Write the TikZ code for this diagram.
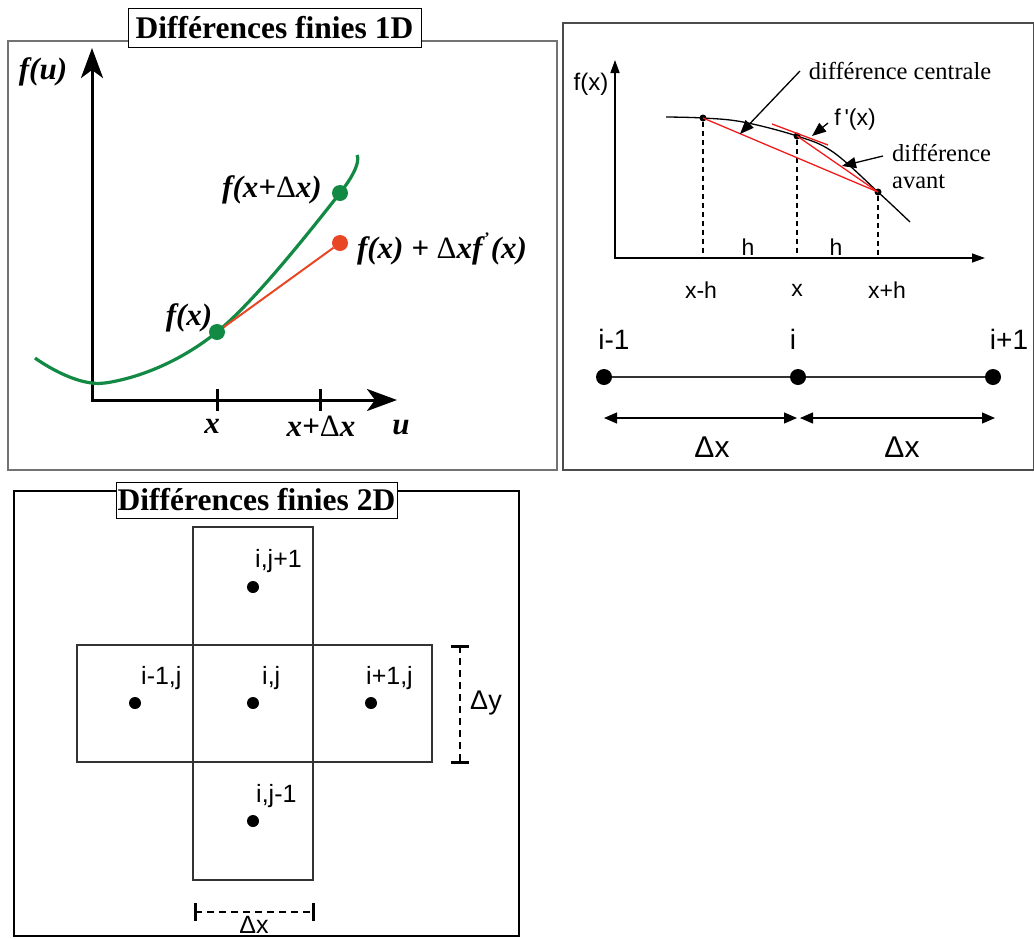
\documentclass[tikz,border=0pt]{standalone}
\usepackage{fontspec}
\setmainfont{Liberation Serif}
\newfontfamily\arialf{Liberation Sans}
\usetikzlibrary{arrows.meta}
\definecolor{cgreen}{RGB}{18,138,68}
\definecolor{corange}{RGB}{232,70,36}
\definecolor{cred}{RGB}{240,28,28}
\begin{document}
\begin{tikzpicture}[x=1pt,y=-1pt]
\tikzset{
  frameA/.style={draw=black!55, line width=1.4pt},
  frameB/.style={draw=black!70, line width=1.4pt},
  frameC/.style={draw=black, line width=1.2pt},
  titlebox/.style={draw=black, fill=white, line width=1pt, inner sep=0pt, font=\fontsize{31.5}{34}\selectfont\bfseries},
  lab1/.style={inner sep=0pt, font=\fontsize{31}{34}\selectfont\bfseries\itshape},
  gdot/.style={circle, fill=cgreen, minimum size=16pt, inner sep=0pt},
  rdot/.style={circle, fill=corange, minimum size=16pt, inner sep=0pt},
  bigaxis/.style={line width=3pt, {Stealth[length=30pt,width=22pt,inset=8pt]}-{Stealth[length=30pt,width=22pt,inset=8pt]}},
  lab2/.style={inner sep=0pt, font=\fontsize{23}{26}\selectfont\arialf},
  lab2s/.style={inner sep=0pt, font=\fontsize{24.5}{28}\selectfont},
  lab2b/.style={inner sep=0pt, font=\fontsize{28}{32}\selectfont\arialf},
  lab2d/.style={inner sep=0pt, font=\fontsize{30}{34}\selectfont\arialf},
  sdot/.style={circle, fill=black, minimum size=7pt, inner sep=0pt},
  mdot/.style={circle, fill=black, minimum size=16pt, inner sep=0pt},
  pointer/.style={line width=1.3pt, -{Triangle[length=14pt,width=11pt]}},
  dimarrow/.style={line width=1.2pt, {Triangle[length=13pt,width=11pt]}-{Triangle[length=13pt,width=11pt]}},
  guide/.style={line width=1.2pt, dash pattern=on 5pt off 4pt},
  cell/.style={draw=black!80, line width=1.6pt},
  cdot/.style={circle, fill=black, minimum size=12pt, inner sep=0pt},
  lab3/.style={inner sep=0pt, font=\fontsize{25}{28}\selectfont\arialf},
  dimdash/.style={line width=1.6pt, dash pattern=on 7pt off 5pt},
  dimbar/.style={line width=3pt}
}
\useasboundingbox (0,0) rectangle (1034,938);

% ---------------- Panel 1 ----------------
\draw[frameA] (8,41) rectangle (557,470);
\node[titlebox, minimum width=293pt, minimum height=39pt] (t1) at (274.5,27.5) {Différences finies 1D};
\coordinate (o1) at (92,400);
\coordinate (yt1) at (92,48);
\coordinate (xt1) at (397,400);
\draw[bigaxis] (yt1) -- (o1) -- (xt1);
\coordinate (tk1a) at (217,389); \coordinate (tk1b) at (217,411);
\coordinate (tk2a) at (320,389); \coordinate (tk2b) at (320,411);
\draw[line width=3pt] (tk1a) -- (tk1b);
\draw[line width=3pt] (tk2a) -- (tk2b);
\draw[cgreen, line width=3.2pt] plot[smooth, tension=0.6] coordinates {(35,358) (105,383) (217,332) (340,193) (357,155)};
\node[gdot] (p1) at (217,332) {};
\node[gdot] (p2) at (340,193) {};
\node[rdot] (p3) at (340,243) {};
\draw[corange, line width=2pt] (p1) -- (p3);
\node[lab1] (lfu) at (43,72) {f(u)};
\node[lab1] (lfxd) at (272,190) {f(x+{\upshape\mdseries Δ}x)};
\node[lab1] (lfx) at (189,318) {f(x)};
\node[lab1] (lft) at (442,249) {f(x) + {\upshape\mdseries Δ}xf\kern2pt\raisebox{1.1ex}{\fontsize{16}{16}\selectfont\upshape '}\kern1pt(x)};
\node[lab1] (lx) at (212,426) {x};
\node[lab1] (lxd) at (321,426) {x+{\upshape\mdseries Δ}x};
\node[lab1] (lu) at (401,428) {u};

% ---------------- Panel 2 ----------------
\draw[frameB] (563,23) rectangle (1033.3,470);
\coordinate (o2) at (615,258);
\coordinate (yt2) at (615,60);
\coordinate (xt2) at (985,258);
\draw[line width=1.5pt, {Triangle[length=13pt,width=9pt]}-{Triangle[length=13pt,width=9pt]}] (yt2) -- (o2) -- (xt2);
\draw[line width=1.3pt] plot[smooth, tension=0.6] coordinates {(666,117) (703,118) (743,122) (797,136) (833,152) (878,192) (910,222)};
\node[sdot] (q1) at (703,118) {};
\node[sdot] (q2) at (797,136) {};
\node[sdot] (q3) at (878,192) {};
\coordinate (b1) at (703,258);
\coordinate (b2) at (797,258);
\coordinate (b3) at (878,258);
\draw[guide] (q1) -- (b1);
\draw[guide] (q2) -- (b2);
\draw[guide] (q3) -- (b3);
\draw[cred, line width=1.3pt] (q1.center) -- (q3.center);
\draw[cred, line width=1.3pt] (q2.center) -- (q3.center);
\coordinate (tg1) at (772,124);
\coordinate (tg2) at (828,145);
\draw[cred, line width=1.3pt] (tg1) -- (tg2);
\node[lab2, font=\fontsize{24}{26}\selectfont\arialf] (lf2) at (591,84) {f(x)};
\node[lab2] (lh1) at (748,247) {h};
\node[lab2] (lh2) at (836,247) {h};
\node[lab2] (lxh) at (701,290) {x-h};
\node[lab2] (lx2) at (797,290) {x};
\node[lab2] (lxph) at (887,290) {x+h};
\node[lab2s] (ldc) at (900,71) {différence centrale};
\node[lab2] (lfp) at (855,120) {f\,'(x)};
\node[lab2s, anchor=west] (lda) at (892,153) {différence};
\node[lab2s, anchor=west] (lav) at (892,182) {avant};
\coordinate (a1s) at (800,71);
\coordinate (a1e) at (740,134);
\draw[pointer] (a1s) -- (a1e);
\coordinate (a2s) at (828,123);
\coordinate (a2e) at (812,136);
\draw[pointer] (a2s) -- (a2e);
\coordinate (a3s) at (883,156);
\coordinate (a3e) at (842,166);
\draw[pointer] (a3s) -- (a3e);
% grid line
\node[mdot] (g1) at (604,377) {};
\node[mdot] (g2) at (798,377) {};
\node[mdot] (g3) at (993,377) {};
\draw[line width=1.2pt, black!80] (g1) -- (g2) -- (g3);
\node[lab2b] (li1) at (614,339) {i-1};
\node[lab2b] (li2) at (793,339) {i};
\node[lab2b] (li3) at (1009,339) {i+1};
\coordinate (d1) at (604,418);
\coordinate (d2) at (797,418);
\coordinate (d3) at (800,418);
\coordinate (d4) at (995,418);
\draw[dimarrow] (d1) -- (d2);
\draw[dimarrow] (d3) -- (d4);
\node[lab2d] (ldx1) at (712,447) {Δx};
\node[lab2d] (ldx2) at (902,447) {Δx};

% ---------------- Panel 3 ----------------
\draw[frameC] (14,491) rectangle (519,936);
\node[titlebox, minimum width=281pt, minimum height=36pt] (t2) at (256.5,500) {Différences finies 2D};
\draw[cell] (193,527) rectangle (313,880);
\draw[cell] (77,645) rectangle (432,762);
\node[cdot] (c1) at (253,587) {};
\node[cdot] (c2) at (135,703) {};
\node[cdot] (c3) at (253,703) {};
\node[cdot] (c4) at (371,703) {};
\node[cdot] (c5) at (253,821) {};
\node[lab3, anchor=south west] (l31) at (255,573) {i,j+1};
\node[lab3, anchor=south west] (l32) at (141,690) {i-1,j};
\node[lab3, anchor=south west] (l33) at (262,690) {i,j};
\node[lab3, anchor=south west] (l34) at (366,690) {i+1,j};
\node[lab3, anchor=south west] (l35) at (256,808) {i,j-1};
\coordinate (dy1) at (460,646);
\coordinate (dy2) at (460,762);
\draw[dimdash] (dy1) -- (dy2);
\draw[dimbar] (451,646) -- (469,646);
\draw[dimbar] (451,762) -- (469,762);
\node[lab3, font=\fontsize{27}{30}\selectfont\arialf] (ldy) at (486,703) {Δy};
\coordinate (dx1) at (195,912);
\coordinate (dx2) at (313,912);
\draw[dimdash] (dx1) -- (dx2);
\draw[dimbar] (195,903) -- (195,921);
\draw[dimbar] (313,903) -- (313,921);
\node[lab3, font=\fontsize{25}{28}\selectfont\arialf, anchor=base] (ldx) at (254,933) {Δx};
\end{tikzpicture}
\end{document}
